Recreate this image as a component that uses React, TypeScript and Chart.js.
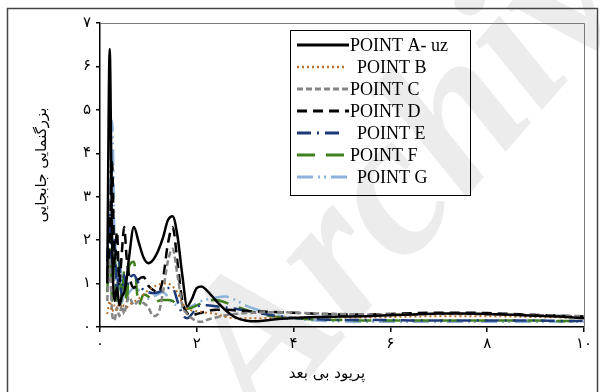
import React, { useEffect, useRef } from "react";
import { Chart, registerables } from "chart.js";

Chart.register(...registerables);

// Dimensionless period (x) shared by all series
const periods = [0.15,0.2,0.25,0.3,0.35,0.4,0.45,0.5,0.55,0.6,0.7,0.8,0.9,1.0,1.1,1.2,1.3,1.4,1.5,1.6,1.7,1.8,1.9,2.0,2.1,2.2,2.4,2.6,2.8,3.0,3.25,3.5,3.75,4.0,4.5,5,5.5,6,6.5,7,7.5,8,8.5,9,9.5,10];

const pointA = [1.0,6.4,2.0,0.6,0.9,0.5,0.7,0.8,1.1,1.6,2.3,1.95,1.6,1.47,1.55,1.75,2.05,2.45,2.55,2.1,1.2,0.48,0.65,0.9,0.93,0.85,0.6,0.38,0.22,0.15,0.13,0.16,0.19,0.21,0.23,0.24,0.25,0.27,0.29,0.31,0.31,0.3,0.28,0.26,0.24,0.2];
const pointB = [0.3,0.6,0.35,0.5,0.4,0.55,0.45,0.5,0.45,0.5,0.58,0.65,0.75,0.85,0.92,0.97,1.0,1.0,0.93,0.8,0.55,0.42,0.38,0.36,0.35,0.33,0.3,0.23,0.2,0.2,0.2,0.21,0.22,0.22,0.22,0.22,0.22,0.23,0.24,0.25,0.25,0.25,0.24,0.23,0.22,0.2];
const pointC = [0.6,1.6,0.3,0.15,0.45,0.25,0.5,0.3,0.55,0.7,0.5,0.6,0.55,0.45,0.25,0.3,0.8,1.5,1.8,1.2,0.5,0.3,0.2,0.13,0.12,0.16,0.22,0.27,0.3,0.32,0.33,0.34,0.34,0.33,0.31,0.3,0.29,0.29,0.29,0.3,0.3,0.29,0.28,0.27,0.26,0.25];
const pointD = [1.2,2.0,3.8,1.4,2.2,1.0,1.7,2.3,1.6,1.2,0.9,1.1,1.15,0.95,0.85,0.8,1.1,1.9,2.3,1.5,0.6,0.32,0.28,0.3,0.33,0.36,0.4,0.4,0.38,0.37,0.36,0.35,0.34,0.33,0.3,0.29,0.29,0.3,0.32,0.33,0.33,0.32,0.3,0.28,0.26,0.24];
const pointE = [1.5,2.6,1.2,2.0,0.8,1.5,0.7,1.2,0.9,1.1,1.2,1.0,0.85,0.8,0.78,0.8,0.85,0.9,0.9,0.6,0.3,0.2,0.3,0.45,0.5,0.5,0.48,0.45,0.42,0.38,0.33,0.28,0.24,0.21,0.18,0.16,0.16,0.16,0.15,0.15,0.15,0.15,0.15,0.15,0.14,0.14];
const pointF = [0.8,1.8,0.6,1.7,0.5,1.5,0.6,1.3,0.5,1.4,1.5,0.5,0.75,0.7,0.55,0.6,0.62,0.62,0.6,0.5,0.45,0.42,0.45,0.5,0.55,0.6,0.62,0.56,0.48,0.4,0.32,0.26,0.22,0.2,0.17,0.16,0.15,0.15,0.15,0.15,0.15,0.15,0.15,0.15,0.14,0.14];
const pointG = [1.5,3.0,4.75,2.0,0.6,1.5,0.5,1.0,0.7,0.8,0.9,0.85,0.7,0.65,0.7,0.75,0.8,0.7,0.55,0.5,0.45,0.45,0.48,0.55,0.6,0.63,0.68,0.7,0.62,0.5,0.4,0.32,0.25,0.2,0.15,0.13,0.12,0.12,0.12,0.12,0.12,0.12,0.12,0.12,0.12,0.12];

const seriesNames = ["POINT A- uz", "POINT B", "POINT C", "POINT D", "POINT E", "POINT F", "POINT G"];
const seriesValues = [pointA, pointB, pointC, pointD, pointE, pointF, pointG];
const seriesColors = ["#000000", "#b5702e", "#858585", "#000000", "#1c3a78", "#3f7f1e", "#8db2dc"];
const seriesWidths = [2.5, 2, 2.5, 2.5, 2.5, 2.5, 2.5];
const seriesDashes: number[][] = [[], [2, 3], [6, 3], [10, 6], [14, 6, 2, 6], [18, 11], [16, 5, 2, 4, 2, 5]];

const xTicks = [0, 2, 4, 6, 8, 10];
const yTicks = [0, 1, 2, 3, 4, 5, 6, 7];
const xTitle = "پریود بی بعد";
const yTitle = "بزرگنمایی جابجایی";
const watermark = "Archive";

const faDigits = "۰۱۲۳۴۵۶۷۸۹";
const toFa = (v: number | string) => String(v).replace(/\d/g, (d) => faDigits[+d]);

const decorPlugin = {
  id: "decor",
  beforeDraw(chart: any) {
    const ctx = chart.ctx;
    ctx.save();
    // watermark
    ctx.translate(262, 432);
    ctx.rotate((-49 * Math.PI) / 180);
    ctx.font = 'italic bold 205px "Liberation Serif"';
    ctx.fillStyle = "#ececec";
    ctx.textBaseline = "alphabetic";
    ctx.fillText(watermark, 0, 0);
    ctx.restore();
  },
  afterDraw(chart: any) {
    const ctx = chart.ctx;
    const a = chart.chartArea;
    ctx.save();
    // outer border
    ctx.strokeStyle = "#444";
    ctx.lineWidth = 1.5;
    ctx.beginPath();
    ctx.moveTo(7.5, 400);
    ctx.lineTo(7.5, 8.5);
    ctx.lineTo(597.5, 8.5);
    ctx.lineTo(597.5, 400);
    ctx.stroke();
    // top/right frame of plot area
    ctx.strokeStyle = "#7a7a7a";
    ctx.lineWidth = 1;
    ctx.beginPath();
    ctx.moveTo(a.left, a.top + 0.5);
    ctx.lineTo(a.right + 0.5, a.top + 0.5);
    ctx.lineTo(a.right + 0.5, a.bottom);
    ctx.stroke();

    // axis titles
    ctx.fillStyle = "#000";
    ctx.font = '15px "DejaVu Sans"';
    ctx.textAlign = "center";
    ctx.textBaseline = "middle";
    ctx.fillText(xTitle, 327, 374);
    ctx.save();
    ctx.translate(42, 165);
    ctx.rotate(-Math.PI / 2);
    ctx.fillText(yTitle, 0, 0);
    ctx.restore();

    // legend
    const lx = 290, ly = 30, lw = 180, lh = 165;
    ctx.strokeStyle = "#000";
    ctx.lineWidth = 1;
    ctx.strokeRect(lx + 0.5, ly + 0.5, lw, lh);
    ctx.font = '18px "Liberation Serif"';
    ctx.textAlign = "left";
    ctx.textBaseline = "middle";
    const sampleEnds = [349, 344, 349, 349, 343, 349, 350];
    const textStarts = [350, 357, 350, 350, 357, 350, 357];
    for (let i = 0; i < seriesNames.length; i++) {
      const y = 45 + i * 22;
      ctx.beginPath();
      ctx.setLineDash(seriesDashes[i]);
      ctx.strokeStyle = seriesColors[i];
      ctx.lineWidth = seriesWidths[i] + 0.5;
      ctx.moveTo(297, y);
      ctx.lineTo(sampleEnds[i], y);
      ctx.stroke();
      ctx.setLineDash([]);
      ctx.fillStyle = "#000";
      ctx.fillText(seriesNames[i], textStarts[i], y + 1);
    }
    ctx.restore();
  },
};

export default function App() {
  const ref = useRef<HTMLCanvasElement | null>(null);
  useEffect(() => {
    if (!ref.current) return;
    const datasets = seriesNames.map((name, i) => ({
      label: name,
      data: periods.map((x, j) => ({ x, y: seriesValues[i][j] })),
      borderColor: seriesColors[i],
      backgroundColor: seriesColors[i],
      borderWidth: seriesWidths[i],
      borderDash: seriesDashes[i],
      pointRadius: 0,
      fill: false,
      cubicInterpolationMode: "monotone" as const,
      order: i === 0 ? 0 : 1,
    }));
    const chart = new Chart(ref.current, {
      type: "line",
      data: { datasets },
      options: {
        animation: false,
        responsive: false,
        layout: { padding: { top: 23, right: 16, left: 0, bottom: 0 } },
        plugins: { legend: { display: false }, tooltip: { enabled: false } },
        scales: {
          x: {
            type: "linear",
            min: 0,
            max: 10,
            afterBuildTicks: (s: any) => {
              s.ticks = xTicks.map((v) => ({ value: v }));
            },
            afterFit: (s: any) => {
              s.height = 65;
            },
            ticks: {
              callback: (v: any) => toFa(v),
              color: "#000",
              font: { family: "DejaVu Sans", size: 15 },
              padding: 3,
              maxRotation: 0,
              autoSkip: false,
            },
            grid: { drawOnChartArea: false, drawTicks: true, tickLength: 5, color: "#000", lineWidth: 1.5 },
            border: { display: true, color: "#000", width: 1.5 },
          },
          y: {
            type: "linear",
            min: 0,
            max: 7,
            afterBuildTicks: (s: any) => {
              s.ticks = yTicks.map((v) => ({ value: v }));
            },
            afterFit: (s: any) => {
              s.width = 100;
            },
            ticks: {
              callback: (v: any) => toFa(v),
              color: "#000",
              font: { family: "DejaVu Sans", size: 15 },
              padding: 5,
              autoSkip: false,
            },
            grid: { drawOnChartArea: false, drawTicks: true, tickLength: 4, color: "#000", lineWidth: 1.5 },
            border: { display: true, color: "#000", width: 1.5 },
          },
        },
      },
      plugins: [decorPlugin],
    });
    return () => chart.destroy();
  }, []);
  return (
    <div style={{ position: "fixed", left: 0, top: 0, width: 600, height: 392, background: "#fff" }}>
      <canvas ref={ref} width={600} height={392} style={{ display: "block" }} />
    </div>
  );
}
